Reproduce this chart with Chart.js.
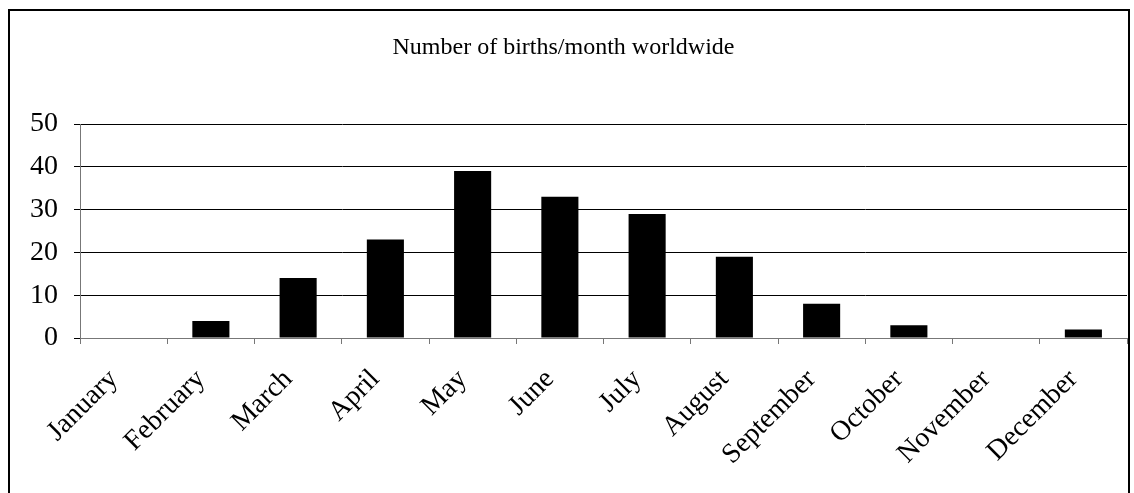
<!DOCTYPE html>
<html>
<head>
<meta charset="utf-8">
<script src="https://cdn.jsdelivr.net/npm/chart.js@4"></script>
<style>
  html, body { margin: 0; padding: 0; background: #fff; overflow: hidden; }
  #frame { position: absolute; left: 8px; top: 9px; width: 1122px; height: 500px; border: 2px solid #000; box-sizing: border-box; }
  #c { position: absolute; left: 0; top: 0; }
</style>
</head>
<body>
<div id="frame"></div>
<canvas id="c" width="1134" height="493"></canvas>
<script>
const categories = ["January","February","March","April","May","June","July","August","September","October","November","December"];
const births = [0, 4, 14, 23, 39, 33, 29, 19, 8, 3, 0, 2];
const yTicks = [0, 10, 20, 30, 40, 50];
const chartTitle = "Number of births/month worldwide";

const FONT = "'Liberation Serif', 'Times New Roman', serif";
const PLOT = { left: 80, right: 1127, top: 124, bottom: 338 };
const TITLE_SIZE = 24;
const TICK_SIZE = 28;

new Chart(document.getElementById('c'), {
  type: 'bar',
  data: {
    labels: categories,
    datasets: [{
      data: births,
      backgroundColor: '#000',
      borderColor: '#000',
      borderWidth: 0,
      categoryPercentage: 1.0,
      barPercentage: 0.425
    }]
  },
  options: {
    responsive: false,
    animation: false,
    devicePixelRatio: 1,
    layout: { padding: { left: 0, right: 1134 - PLOT.right, top: 0, bottom: 0 } },
    plugins: {
      legend: { display: false },
      tooltip: { enabled: false },
      title: {
        display: true,
        text: chartTitle,
        color: '#000',
        font: { family: FONT, size: TITLE_SIZE, weight: 'normal', lineHeight: 1.2 },
        padding: { top: 33, bottom: PLOT.top - 33 - TITLE_SIZE * 1.2 }
      }
    },
    scales: {
      x: {
        offset: true,
        grid: { display: true, drawOnChartArea: false, offset: true, tickLength: 6, color: '#777', tickWidth: 1 },
        border: { display: true, color: '#777', width: 1 },
        ticks: {
          color: '#000',
          font: { family: FONT, size: TICK_SIZE },
          minRotation: 45, maxRotation: 45,
          padding: 19,
          labelOffset: -10
        },
        afterFit(scale) { scale.height = 493 - PLOT.bottom; }
      },
      y: {
        min: 0, max: 50,
        afterBuildTicks(scale) { scale.ticks = yTicks.map(v => ({ value: v })); },
        grid: { color: '#000', lineWidth: 1, tickLength: 6, drawTicks: true },
        border: { display: true, color: '#777', width: 1 },
        ticks: {
          color: '#000',
          font: { family: FONT, size: TICK_SIZE },
          padding: 16
        },
        afterFit(scale) { scale.width = PLOT.left; }
      }
    }
  }
});
</script>
</body>
</html>
